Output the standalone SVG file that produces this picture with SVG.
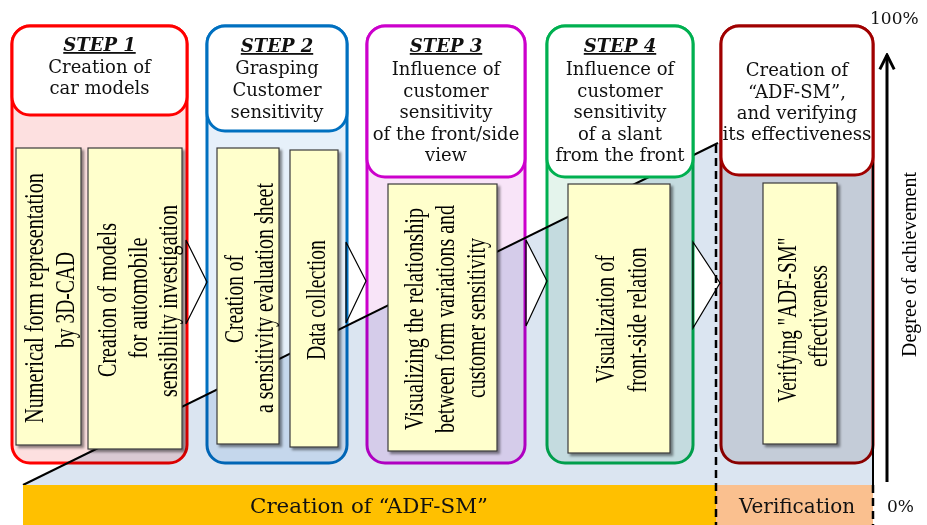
<svg xmlns="http://www.w3.org/2000/svg" width="927" height="525" viewBox="0 0 927 525">
<defs>
<style>
.hd{font-family:"DejaVu Serif",serif;font-size:18px;fill:#111;text-anchor:middle}
.st{font-weight:bold;font-style:italic;text-decoration:underline}
.vt{font-family:"Liberation Serif","Times New Roman",serif;font-size:27px;fill:#000;text-anchor:middle}
.yb{fill:#ffffcc;stroke:#3a3a3a;stroke-width:1.2;filter:url(#sh)}
.body{mix-blend-mode:multiply;stroke-width:3}
.chev{fill:#fff;stroke:#000;stroke-width:1.2}
.dash{stroke:#000;stroke-width:2.5;stroke-dasharray:8 5;fill:none}
.bt{font-family:"DejaVu Serif",serif;font-size:20px;fill:#111;text-anchor:middle}
.pct{font-family:"DejaVu Serif",serif;font-size:17px;fill:#111}
</style>
<filter id="sh" x="-10%" y="-10%" width="130%" height="130%">
<feDropShadow dx="2.5" dy="2.5" stdDeviation="1.2" flood-color="#000" flood-opacity="0.45"/>
</filter>
<marker id="arr" viewBox="0 0 10 10" refX="9" refY="5" markerWidth="6" markerHeight="6" orient="auto" markerUnits="strokeWidth">
<path d="M1,1 L9,5 L1,9" fill="none" stroke="#000" stroke-width="1.6"/>
</marker>
</defs>
<rect width="927" height="525" fill="#fff"/>

<g id="background">
<polygon points="23,485 718,143 873,143 873,485" fill="#dbe5f1"/>
</g>

<g id="connectors">
<polygon class="chev" points="186,240 207,282 186,324"/>
<polygon class="chev" points="346,242 366,281 346,323"/>
<polygon class="chev" points="526,240 547,281 526,326"/>
<polygon class="chev" points="693,242 720,283 693,328"/>
<line x1="23" y1="485" x2="718" y2="143" stroke="#000" stroke-width="2"/>
<line x1="873" y1="143" x2="873" y2="485" stroke="#000" stroke-width="2"/>
</g>

<g id="step1">
<rect class="body" x="12" y="26" width="175" height="437" rx="18" fill="#fde0e0" stroke="#ff0000"/>
<rect x="12" y="26" width="175" height="89" rx="18" fill="#fff" stroke="#ff0000" stroke-width="3"/>
<text class="hd st" x="99.5" y="51">STEP 1</text>
<text class="hd" x="99.5" y="73">Creation of</text>
<text class="hd" x="99.5" y="94">car models</text>
<rect class="yb" x="16" y="148" width="65" height="297"/>
<text class="vt" transform="translate(43,298) rotate(-90)" textLength="250" lengthAdjust="spacingAndGlyphs">Numerical form representation</text>
<text class="vt" transform="translate(74,300) rotate(-90)" textLength="96" lengthAdjust="spacingAndGlyphs">by 3D-CAD</text>
<rect class="yb" x="88" y="148" width="94" height="301"/>
<text class="vt" transform="translate(116,300) rotate(-90)" textLength="154" lengthAdjust="spacingAndGlyphs">Creation of models</text>
<text class="vt" transform="translate(146.5,298) rotate(-90)" textLength="121" lengthAdjust="spacingAndGlyphs">for automobile</text>
<text class="vt" transform="translate(177,301) rotate(-90)" textLength="192" lengthAdjust="spacingAndGlyphs">sensibility investigation</text>
</g>

<g id="step2">
<rect class="body" x="207" y="26" width="140" height="437" rx="18" fill="#e6f0fa" stroke="#0070c0"/>
<rect x="207" y="26" width="140" height="105" rx="18" fill="#fff" stroke="#0070c0" stroke-width="3"/>
<text class="hd st" x="277" y="52">STEP 2</text>
<text class="hd" x="277" y="74">Grasping</text>
<text class="hd" x="277" y="96">Customer</text>
<text class="hd" x="277" y="118">sensitivity</text>
<rect class="yb" x="217" y="148" width="62" height="296"/>
<text class="vt" transform="translate(243,299) rotate(-90)" textLength="88" lengthAdjust="spacingAndGlyphs">Creation of</text>
<text class="vt" transform="translate(273,298) rotate(-90)" textLength="230" lengthAdjust="spacingAndGlyphs">a sensitivity evaluation sheet</text>
<rect class="yb" x="290" y="150" width="48" height="297"/>
<text class="vt" transform="translate(325,300) rotate(-90)" textLength="120" lengthAdjust="spacingAndGlyphs">Data collection</text>
</g>

<g id="step3">
<rect class="body" x="367" y="26" width="158" height="437" rx="18" fill="#f8e4f8" stroke="#cc00cc"/>
<rect x="367" y="26" width="158" height="151" rx="18" fill="#fff" stroke="#cc00cc" stroke-width="3"/>
<text class="hd st" x="446" y="52">STEP 3</text>
<text class="hd" x="446" y="75">Influence of</text>
<text class="hd" x="446" y="96.5">customer</text>
<text class="hd" x="446" y="118">sensitivity</text>
<text class="hd" x="446" y="139.5">of the front/side</text>
<text class="hd" x="446" y="161">view</text>
<rect class="yb" x="388" y="184" width="109" height="267"/>
<text class="vt" transform="translate(423,319) rotate(-90)" textLength="222" lengthAdjust="spacingAndGlyphs">Visualizing the relationship</text>
<text class="vt" transform="translate(454,319) rotate(-90)" textLength="228" lengthAdjust="spacingAndGlyphs">between form variations and</text>
<text class="vt" transform="translate(485,318) rotate(-90)" textLength="160" lengthAdjust="spacingAndGlyphs">customer sensitivity</text>
</g>

<g id="step4">
<rect class="body" x="547" y="26" width="146" height="437" rx="18" fill="#e4f4ec" stroke="#00b050"/>
<rect x="547" y="26" width="146" height="151" rx="18" fill="#fff" stroke="#00b050" stroke-width="3"/>
<text class="hd st" x="620" y="52">STEP 4</text>
<text class="hd" x="620" y="75">Influence of</text>
<text class="hd" x="620" y="96.5">customer</text>
<text class="hd" x="620" y="118">sensitivity</text>
<text class="hd" x="620" y="139.5">of a slant</text>
<text class="hd" x="620" y="161">from the front</text>
<rect class="yb" x="568" y="184" width="102" height="269"/>
<text class="vt" transform="translate(614,319) rotate(-90)" textLength="128" lengthAdjust="spacingAndGlyphs">Visualization of</text>
<text class="vt" transform="translate(646,320) rotate(-90)" textLength="145" lengthAdjust="spacingAndGlyphs">front-side relation</text>
</g>

<g id="step5">
<rect class="body" x="721" y="26" width="152" height="437" rx="18" fill="#e4e3e5" stroke="#a00000"/>
<rect x="721" y="26" width="152" height="149" rx="18" fill="#fff" stroke="#a00000" stroke-width="3"/>
<text class="hd" x="797" y="76">Creation of</text>
<text class="hd" x="797" y="98">“ADF-SM”,</text>
<text class="hd" x="797" y="119">and verifying</text>
<text class="hd" x="797" y="140" textLength="149" lengthAdjust="spacingAndGlyphs">its effectiveness</text>
<rect class="yb" x="763" y="183" width="74" height="261"/>
<text class="vt" transform="translate(796,320) rotate(-90)" textLength="165" lengthAdjust="spacingAndGlyphs">Verifying "ADF-SM"</text>
<text class="vt" transform="translate(827,316) rotate(-90)" textLength="102" lengthAdjust="spacingAndGlyphs">effectiveness</text>
</g>

<g id="phases">
<rect x="23" y="485" width="693" height="45" fill="#ffc000"/>
<rect x="716" y="485" width="157" height="45" fill="#fac08f"/>
<text class="bt" x="369" y="513" textLength="238" lengthAdjust="spacingAndGlyphs">Creation of “ADF-SM”</text>
<text class="bt" x="797" y="513">Verification</text>
<line class="dash" x1="716" y1="145" x2="716" y2="525"/>
<line class="dash" x1="873" y1="485" x2="873" y2="525"/>
</g>

<g id="axis">
<line x1="887" y1="482" x2="887" y2="55" stroke="#000" stroke-width="3" marker-end="url(#arr)"/>
<text class="pct" x="870" y="24">100%</text>
<text class="pct" x="887" y="512">0%</text>
<text font-family="Liberation Serif, Times New Roman, serif" font-size="21" fill="#000" text-anchor="middle" transform="translate(916,264.5) rotate(-90)" textLength="185" lengthAdjust="spacingAndGlyphs">Degree of achievement</text>
</g>
</svg>
